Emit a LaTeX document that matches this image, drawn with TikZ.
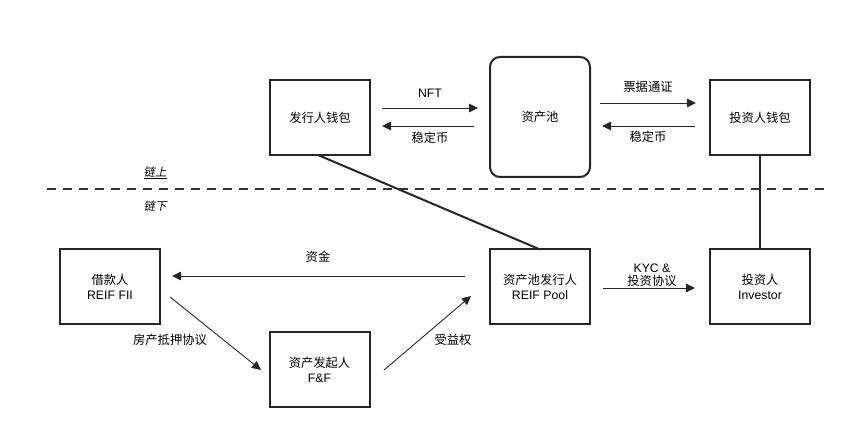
\documentclass[tikz,border=0pt]{standalone}
\usepackage{fontspec}
\setmainfont{Liberation Sans}
\newfontfamily\cjk{Noto Sans CJK SC}
\newfontfamily\cjkit[FakeSlant=0.2]{Noto Sans CJK SC}
\usetikzlibrary{arrows.meta}
\begin{document}
\begin{tikzpicture}[x=1pt,y=-1pt,
  box/.style={draw=black!85,line width=2pt,minimum width=100pt,minimum height=75pt,inner sep=0pt,align=center,font=\fontsize{12.3}{14.5}\selectfont},
  lbl/.style={font=\fontsize{12.3}{14.5}\selectfont,align=center,inner sep=1pt},
  arr/.style={draw=black!85,line width=0.9pt,-{Triangle[length=9pt,width=8.5pt]}},
  thick line/.style={draw=black!85,line width=2pt}]
\useasboundingbox (0,0) rectangle (852,427);
% on-chain
\node[box] (iw) at (320,117.5) {\cjk 发行人钱包};
\node[box,rounded corners=10pt,minimum height=120pt] (pool) at (540,117) {\cjk 资产池};
\node[box] (vw) at (760,117.5) {\cjk 投资人钱包};
% off-chain
\node[box] (bor) at (110,287) {\cjk 借款人\\REIF FII};
\node[box] (ff) at (319.5,370) {\cjk 资产发起人\\F\&F};
\node[box] (rp) at (540,287) {\cjk 资产池发行人\\REIF Pool};
\node[box] (inv) at (760,287) {\cjk 投资人\\Investor};
% coordinates
\coordinate (a1s) at (382,108); \coordinate (a1e) at (478,108);
\coordinate (a2s) at (474,126); \coordinate (a2e) at (382,126);
\coordinate (a3s) at (600,103); \coordinate (a3e) at (696,103);
\coordinate (a4s) at (695,126); \coordinate (a4e) at (602,126);
\coordinate (b1s) at (465,276); \coordinate (b1e) at (172,276);
\coordinate (b2s) at (170,297); \coordinate (b2e) at (261,370);
\coordinate (b3s) at (384,370); \coordinate (b3e) at (471,296);
\coordinate (b4s) at (603,288); \coordinate (b4e) at (695,288);
\coordinate (dl) at (47,189); \coordinate (dr) at (826,189);
% arrows
\draw[arr] (a1s) -- (a1e);
\draw[arr] (a2s) -- (a2e);
\draw[arr] (a3s) -- (a3e);
\draw[arr] (a4s) -- (a4e);
\draw[arr] (b1s) -- (b1e);
\draw[arr] (b2s) -- (b2e);
\draw[arr] (b3s) -- (b3e);
\draw[arr] (b4s) -- (b4e);
% labels
\node[lbl] (lnft) at (430,93) {NFT};
\node[lbl] (ls1) at (430,138) {\cjk 稳定币};
\node[lbl] (lpj) at (648,87) {\cjk 票据通证};
\node[lbl] (ls2) at (648,137) {\cjk 稳定币};
\node[lbl] (lzj) at (318,257) {\cjk 资金};
\node[lbl] (lfc) at (170,340) {\cjk 房产抵押协议};
\node[lbl] (lsy) at (453,340) {\cjk 受益权};
\node[lbl,font=\fontsize{12.3}{13.5}\selectfont] (lkyc) at (652,275) {KYC \&\\\cjk 投资协议};
% thick links
\draw[thick line] (318,155) -- (540,249.5);
\draw[thick line] (vw.south) -- (inv.north);
% chain divider
\draw[draw=black!80,line width=2.8pt,dash pattern=on 9pt off 7pt] (dl) -- (dr);
\node[lbl,font=\fontsize{11.5}{13}\selectfont] (on) at (155,173) {\cjkit\underline{链上}};
\node[lbl,font=\fontsize{11.5}{13}\selectfont] (off) at (155,206) {\cjkit 链下};
\end{tikzpicture}
\end{document}
